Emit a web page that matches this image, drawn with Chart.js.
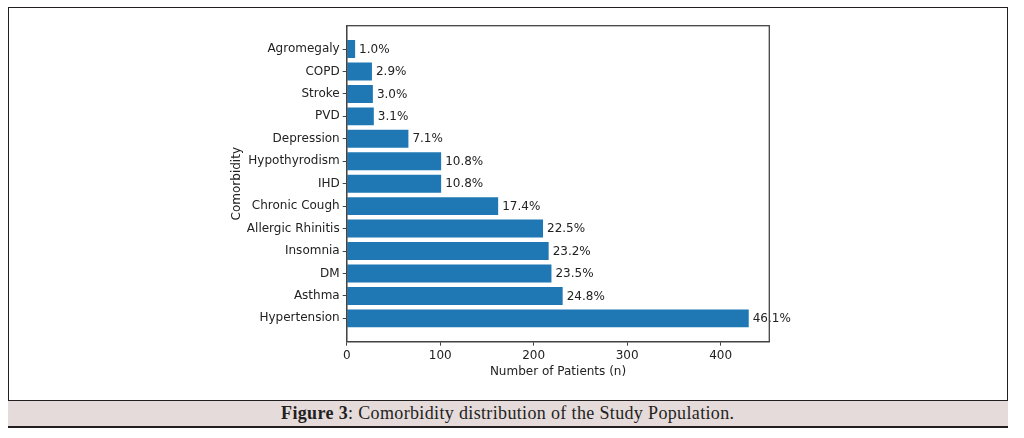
<!DOCTYPE html>
<html>
<head>
<meta charset="utf-8">
<script src="https://cdn.jsdelivr.net/npm/chart.js@4.4.1/dist/chart.umd.min.js"></script>
<style>
  html, body { margin: 0; padding: 0; background: #fff; }
  body { width: 1024px; height: 438px; position: relative; overflow: hidden; }
  #frame { position: absolute; left: 8px; top: 7px; width: 998px; height: 419px; border: 1.5px solid #231f20; box-sizing: content-box; }
  #caption { position: absolute; left: 8px; top: 399.5px; width: 999.5px; height: 27px; background: #e6dbdb; border-top: 1.5px solid #231f20; border-bottom: 1.5px solid #231f20; box-sizing: border-box; text-align: center; font-family: "Liberation Serif", serif; font-size: 18px; line-height: 24px; color: #231f20; letter-spacing: 0.35px; }
  #caption b { font-weight: bold; }
  #wrap { position: absolute; left: 0; top: 0; width: 1024px; height: 438px; }
</style>
</head>
<body>
<div id="frame"></div>
<div id="caption"><b>Figure 3</b>: Comorbidity distribution of the Study Population.</div>
<div id="wrap"><canvas id="c"></canvas></div>
<script>
// Categories from bottom (index 0) to top
const categories = ["Hypertension", "Asthma", "DM", "Insomnia", "Allergic Rhinitis", "Chronic Cough", "IHD", "Hypothyrodism", "Depression", "PVD", "Stroke", "COPD", "Agromegaly"];
const patientCounts = [430, 231, 219, 216, 210, 162, 101, 101, 66, 29, 28, 27, 9];
const percentLabels = ["46.1%", "24.8%", "23.5%", "23.2%", "22.5%", "17.4%", "10.8%", "10.8%", "7.1%", "3.1%", "3.0%", "2.9%", "1.0%"];
const xTicks = [0, 100, 200, 300, 400];

const FONT = "'DejaVu Sans', sans-serif";
const TXT = '#222';

const valueLabels = {
  id: 'valueLabels',
  afterDatasetsDraw(chart) {
    const ctx = chart.ctx;
    const meta = chart.getDatasetMeta(0);
    ctx.save();
    ctx.font = "12px " + FONT;
    ctx.fillStyle = TXT;
    ctx.textAlign = 'left';
    ctx.textBaseline = 'middle';
    meta.data.forEach((bar, i) => {
      ctx.fillText(percentLabels[i], bar.x + 4, bar.y + 0.5);
    });
    ctx.restore();
  }
};

const boxPlugin = {
  id: 'boxPlugin',
  afterDraw(chart) {
    const a = chart.chartArea;
    const ctx = chart.ctx;
    ctx.save();
    ctx.strokeStyle = '#444';
    ctx.lineWidth = 1.3;
    ctx.strokeRect(a.left, a.top, a.right - a.left, a.bottom - a.top);
    ctx.restore();
  }
};

new Chart(document.getElementById('c'), {
  type: 'bar',
  data: {
    datasets: [{
      data: patientCounts.map((v, i) => ({ x: v, y: i })),
      backgroundColor: '#1f77b4',
      borderWidth: 0,
      barPercentage: 0.8,
      categoryPercentage: 1.0
    }]
  },
  options: {
    indexAxis: 'y',
    responsive: true,
    maintainAspectRatio: false,
    animation: false,
    layout: { padding: { left: 226, top: 25.7, right: 254.7, bottom: 54.8 } },
    plugins: { legend: { display: false }, tooltip: { enabled: false } },
    scales: {
      x: {
        type: 'linear',
        min: 0,
        max: 452,
        afterBuildTicks: (s) => { s.ticks = xTicks.map(v => ({ value: v })); },
        afterFit: (s) => { s.height = 41.5; },
        grid: { drawOnChartArea: false, drawTicks: true, tickLength: 4, color: '#444' },
        border: { display: true, color: '#444', width: 1.3 },
        ticks: { font: { family: FONT, size: 12 }, color: TXT, padding: 3, maxRotation: 0 },
        title: { display: true, text: 'Number of Patients (n)', font: { family: FONT, size: 12 }, color: TXT, padding: { top: 4, bottom: 4 } }
      },
      y: {
        type: 'linear',
        offset: false,
        min: -1.04,
        max: 13.04,
        afterBuildTicks: (s) => { s.ticks = categories.map((c, i) => ({ value: i })); },
        afterFit: (s) => { s.width = 346.7 - 226; },
        grid: { drawOnChartArea: false, drawTicks: true, tickLength: 4, color: '#444', offset: false },
        border: { display: true, color: '#444', width: 1.3 },
        ticks: {
          font: { family: FONT, size: 12 }, color: TXT, padding: 3, autoSkip: false,
          callback: (v) => categories[v] !== undefined ? categories[v] : ''
        },
        title: { display: true, text: 'Comorbidity', font: { family: FONT, size: 12 }, color: TXT, padding: { top: 4, bottom: 4 } }
      }
    }
  },
  plugins: [valueLabels, boxPlugin]
});
</script>
</body>
</html>
